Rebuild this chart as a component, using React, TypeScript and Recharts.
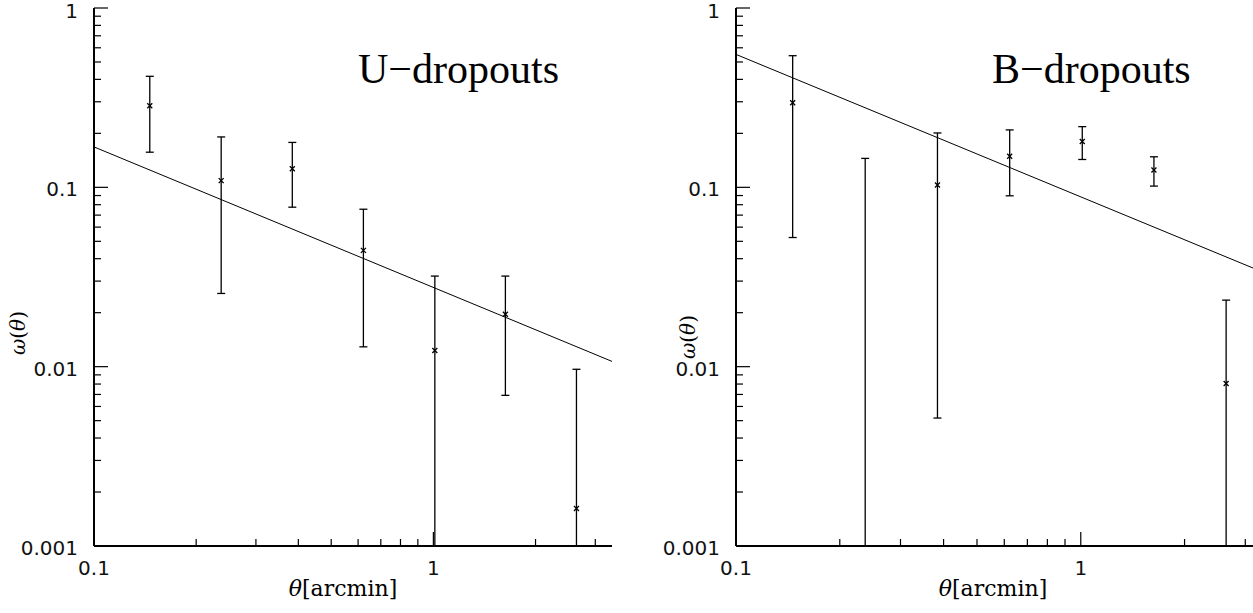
import React from 'react'
import { ScatterChart, Scatter, XAxis, YAxis, ErrorBar } from 'recharts'

// angular bins (arcmin), shared by both panels
const theta = [0.146, 0.237, 0.384, 0.622, 1.01, 1.63, 2.64]

// U-dropouts
const uOmega = [0.285, 0.109, 0.127, 0.0445, 0.0123, 0.0196, 0.00162]
const uUpper = [0.416, 0.191, 0.178, 0.0755, 0.032, 0.032, 0.00967]
const uLower: (number | null)[] = [0.157, 0.0256, 0.0775, 0.0129, null, 0.00692, null]
const uFitTheta = [0.1, 3.36]
const uFitOmega = [0.168, 0.0107]

// B-dropouts
const bOmega: (number | null)[] = [0.296, null, 0.103, 0.149, 0.18, 0.125, 0.00805]
const bUpper = [0.542, 0.145, 0.201, 0.209, 0.218, 0.148, 0.0235]
const bLower: (number | null)[] = [0.0525, null, 0.00517, 0.0897, 0.143, 0.1016, null]
const bFitTheta = [0.1, 3.18]
const bFitOmega = [0.551, 0.0353]

// ticks
const xTicks = [0.1, 0.2, 0.3, 0.4, 0.5, 0.6, 0.7, 0.8, 0.9, 1, 2, 3]
const yTicks = [
  0.001, 0.002, 0.003, 0.004, 0.005, 0.006, 0.007, 0.008, 0.009,
  0.01, 0.02, 0.03, 0.04, 0.05, 0.06, 0.07, 0.08, 0.09,
  0.1, 0.2, 0.3, 0.4, 0.5, 0.6, 0.7, 0.8, 0.9, 1,
]
const majorTicks = [0.001, 0.01, 0.1, 1]

const Y_MIN = 0.001
const TICK_FONT = '"DejaVu Sans", sans-serif'
const SERIF = '"DejaVu Serif", serif'

type Side = 'bottom' | 'top' | 'left' | 'right'

function makeTick(side: Side, withLabel: boolean) {
  return function Tick(props: any) {
    const { x, y, payload } = props
    const v = payload.value
    const major = majorTicks.includes(v)
    const len = major ? 14 : 7
    let x2 = x
    let y2 = y
    if (side === 'bottom') y2 = y - len
    if (side === 'top') y2 = y + len
    if (side === 'left') x2 = x + len
    if (side === 'right') x2 = x - len
    return (
      <g>
        <line x1={x} y1={y} x2={x2} y2={y2} stroke="#000" strokeWidth={1.2} />
        {withLabel && major && side === 'bottom' && (
          <text x={x} y={y + 22} textAnchor="middle" dominantBaseline="central"
            fontFamily={TICK_FONT} fontSize={20} fill="#111">{String(v)}</text>
        )}
        {withLabel && major && side === 'left' && (
          <text x={x - 16} y={Math.max(y + 2, 11)} textAnchor="end" dominantBaseline="central"
            fontFamily={TICK_FONT} fontSize={20} fill="#111">{String(v)}</text>
        )}
      </g>
    )
  }
}

function Cross(props: any) {
  const { cx, cy } = props
  const s = 2.5
  return (
    <path
      d={`M${cx - s},${cy - s}L${cx + s},${cy + s}M${cx - s},${cy + s}L${cx + s},${cy - s}`}
      stroke="#000"
      strokeWidth={1.3}
    />
  )
}

const Nothing = () => <g />

interface PanelProps {
  omega: (number | null)[]
  upper: number[]
  lower: (number | null)[]
  fitTheta: number[]
  fitOmega: number[]
  xMax: number
  width: number
  yAxisWidth: number
  marginRight: number
}

function Panel({ omega, upper, lower, fitTheta, fitOmega, xMax, width, yAxisWidth, marginRight }: PanelProps) {
  const points = theta
    .map((t, i) => ({ theta: t, omega: omega[i] }))
    .filter((p) => p.omega != null)
  // error bars hang from the upper limit; a missing lower limit runs to the axis
  const bars = theta.map((t, i) => {
    const lo = lower[i] ?? Y_MIN
    return { theta: t, omega: upper[i], err: [upper[i] - lo, 0] }
  })
  const fit = fitTheta.map((t, i) => ({ theta: t, omega: fitOmega[i] }))

  const axisLine = { stroke: '#000', strokeWidth: 2 }

  return (
    <ScatterChart width={width} height={613} margin={{ top: 8, right: marginRight, bottom: 0, left: 0 }}>
      <XAxis xAxisId="b" dataKey="theta" type="number" scale="log" domain={[0.1, xMax]}
        allowDataOverflow ticks={xTicks} interval={0} tickSize={0} tickMargin={0} tickLine={false}
        axisLine={axisLine} tick={makeTick('bottom', true)} height={67} orientation="bottom" />
      <XAxis xAxisId="t" dataKey="theta" type="number" scale="log" domain={[0.1, xMax]}
        allowDataOverflow ticks={xTicks} interval={0} tickSize={0} tickMargin={0} tickLine={false}
        axisLine={axisLine} tick={makeTick('top', false)} height={0} orientation="top" />
      <YAxis yAxisId="l" dataKey="omega" type="number" scale="log" domain={[Y_MIN, 1]}
        allowDataOverflow ticks={yTicks} interval={0} tickSize={0} tickMargin={0} tickLine={false}
        axisLine={axisLine} tick={makeTick('left', true)} width={yAxisWidth} orientation="left" />
      <YAxis yAxisId="r" dataKey="omega" type="number" scale="log" domain={[Y_MIN, 1]}
        allowDataOverflow ticks={yTicks} interval={0} tickSize={0} tickMargin={0} tickLine={false}
        axisLine={axisLine} tick={makeTick('right', false)} width={0} orientation="right" />

      <Scatter xAxisId="b" yAxisId="l" data={fit} line={{ stroke: '#000', strokeWidth: 1 }}
        shape={Nothing} isAnimationActive={false} />
      <Scatter xAxisId="b" yAxisId="l" data={bars} shape={Nothing} isAnimationActive={false}>
        <ErrorBar dataKey="err" direction="y" width={4} stroke="#000" strokeWidth={1.3}
          isAnimationActive={false} />
      </Scatter>
      <Scatter xAxisId="b" yAxisId="l" data={points} shape={Cross} isAnimationActive={false} />
      <Scatter xAxisId="t" yAxisId="r" data={fit} shape={Nothing} isAnimationActive={false} />
    </ScatterChart>
  )
}

function Title({ left, text }: { left: number; text: string }) {
  return (
    <div style={{
      position: 'absolute', left, top: 48, fontFamily: '"Liberation Serif", serif',
      fontSize: 42, lineHeight: '42px', whiteSpace: 'nowrap', color: '#000',
    }}>
      {text}
    </div>
  )
}

export default function App() {
  return (
    <div style={{ position: 'absolute', left: 0, top: 0, width: 1253, height: 613, overflow: 'hidden', background: '#fff' }}>
      <div style={{ position: 'absolute', left: 0, top: 0 }}>
        <Panel omega={uOmega} upper={uUpper} lower={uLower} fitTheta={uFitTheta} fitOmega={uFitOmega}
          xMax={3.36} width={626} yAxisWidth={94} marginRight={14} />
      </div>
      <div style={{ position: 'absolute', left: 626, top: 0 }}>
        <Panel omega={bOmega} upper={bUpper} lower={bLower} fitTheta={bFitTheta} fitOmega={bFitOmega}
          xMax={3.18} width={640} yAxisWidth={110} marginRight={12} />
      </div>

      <Title left={358} text="U−dropouts" />
      <Title left={992} text="B−dropouts" />

      <svg width={1253} height={613} style={{ position: 'absolute', left: 0, top: 0, pointerEvents: 'none' }}>
        <text x={343} y={588} textAnchor="middle" dominantBaseline="central" fontFamily={SERIF} fontSize={22}>
          <tspan fontStyle="italic">θ</tspan>[arcmin]
        </text>
        <text x={993} y={588} textAnchor="middle" dominantBaseline="central" fontFamily={SERIF} fontSize={22}>
          <tspan fontStyle="italic">θ</tspan>[arcmin]
        </text>
        <text transform="translate(18,333) rotate(-90)" textAnchor="middle" dominantBaseline="central"
          fontFamily={SERIF} fontSize={20}>
          <tspan fontStyle="italic">ω</tspan>(<tspan fontStyle="italic">θ</tspan>)
        </text>
        <text transform="translate(688,337) rotate(-90)" textAnchor="middle" dominantBaseline="central"
          fontFamily={SERIF} fontSize={20}>
          <tspan fontStyle="italic">ω</tspan>(<tspan fontStyle="italic">θ</tspan>)
        </text>
      </svg>
    </div>
  )
}
